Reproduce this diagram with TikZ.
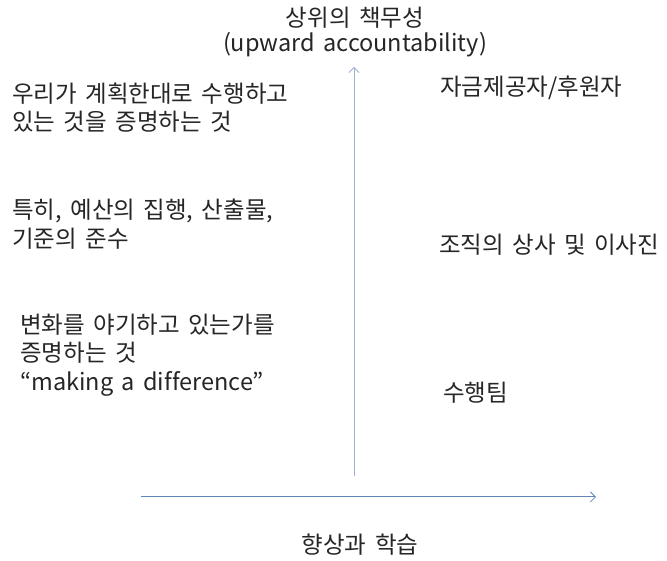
\documentclass[tikz,border=0pt]{standalone}
\usepackage{fontspec}
\setmainfont[WordSpace=1.6,Ligatures=NoCommon]{Noto Sans CJK KR}
\usetikzlibrary{arrows.meta}
\definecolor{vaxis}{HTML}{9DB0D6}
\definecolor{haxis}{HTML}{5F88B8}
\tikzset{
  lbl/.style={inner sep=0pt, font=\fontsize{23.5}{28.5}\selectfont, text=black!85},
  lefttxt/.style={lbl, anchor=west, align=left},
  axis/.style={line width=1pt, -{Straight Barb[length=5pt,width=10pt,line width=0.8pt]}}
}
\begin{document}
\begin{tikzpicture}[x=1pt,y=1pt]
\useasboundingbox[fill=white] (0,0) rectangle (667,561);
% axes
\coordinate (vs) at (354,85);
\coordinate (ve) at (354,494);
\coordinate (hs) at (141,64);
\coordinate (he) at (596,64);
\draw[axis, vaxis] (vs) -- (ve);
\draw[axis, haxis] (hs) -- (he);
% top title
\node[lbl] (t1) at (355,543) {상위의 책무성};
\node[lbl] (t2) at (355,516) {(upward accountability)};
% bottom title
\node[lbl] (b1) at (360,16) {향상과 학습};
% left texts
\node[lefttxt] (l1) at (12,453.5) {우리가 계획한대로 수행하고\\있는 것을 증명하는 것};
\node[lefttxt] (l2) at (12,337) {특히, 예산의 집행, 산출물,\\기준의 준수};
\node[lefttxt] (l3) at (20,206) {변화를 야기하고 있는가를\\증명하는 것\\“making a difference”};
% right texts
\node[lefttxt] (r1) at (440,473) {자금제공자/후원자};
\node[lefttxt] (r2) at (439,316) {조직의 상사 및 이사진};
\node[lefttxt] (r3) at (443,168) {수행팀};
\end{tikzpicture}
\end{document}
